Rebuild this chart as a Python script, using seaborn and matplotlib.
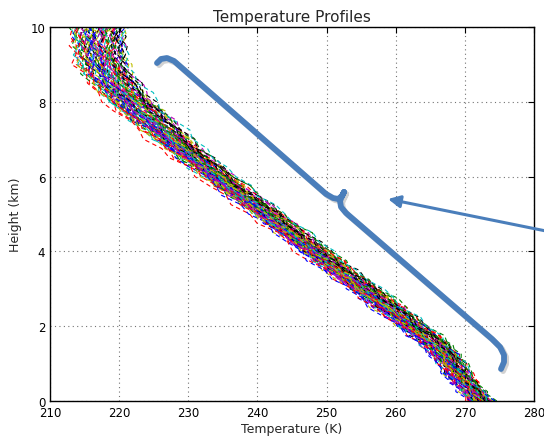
import numpy as np
import pandas as pd
import matplotlib
matplotlib.use("Agg")
import matplotlib.pyplot as plt
import matplotlib.patheffects as pe
import seaborn as sns

# heights (km) every 250 m and the band
heights = [0.0, 0.25, 0.5, 0.75, 1.0, 1.25, 1.5, 1.75, 2.0, 2.25, 2.5,
           2.75, 3.0, 3.25, 3.5, 3.75, 4.0, 4.25, 4.5, 4.75, 5.0,
           5.25, 5.5, 5.75, 6.0, 6.25, 6.5, 6.75, 7.0, 7.25, 7.5,
           7.75, 8.0, 8.25, 8.5, 8.75, 9.0, 9.25, 9.5, 9.75, 10.0]
mean_temp = [272.2, 271.1, 270.0, 268.9, 267.9, 266.9, 265.7, 264.1, 262.3, 260.6, 258.9,
             257.1, 255.3, 253.5, 251.7, 249.9, 248.2, 246.4, 244.7, 242.9, 241.2,
             239.4, 237.6, 235.8, 234.1, 232.4, 230.7, 229.0, 227.5, 226.0, 224.5,
             223.0, 221.6, 220.3, 219.2, 218.3, 217.6, 217.2, 217.0, 216.9, 216.9]
half_spread = [1.7, 1.8, 1.9, 2.0, 2.1, 2.3, 2.4, 2.5, 2.5, 2.6, 2.7,
               2.8, 2.8, 2.9, 2.9, 3.0, 3.0, 3.0, 3.0, 3.1, 3.1,
               3.2, 3.2, 3.3, 3.3, 3.4, 3.5, 3.6, 3.7, 3.8, 3.9,
               4.0, 4.0, 4.1, 4.1, 4.1, 4.1, 4.0, 4.0, 3.9, 3.9]

# where each profile sits inside the band, near the ground and near the top
pos_bottom = [0.1, -0.6, 0.8, -0.2, 0.5, -0.9, 0.3, -0.4, 0.9, 0.0, -0.7, 0.6,
              -0.1, 0.4, -0.8, 0.2, 0.7, -0.5, 0.0, -0.3, 0.5, -1.0, 0.3, 0.8,
              -0.6, 0.1, -0.2, 0.6, -0.4, 1.0, -0.8, 0.2, 0.4, -0.1, 0.7, -0.5,
              0.0, 0.9, -0.3, -0.7, 0.3, 0.6, -0.9, 0.1, -0.2, 0.8, -0.6, 0.4,
              0.0, -0.4, 0.5, -0.1, 0.2, -0.8, 0.7, -0.3, 0.9, 0.1, -0.5, 0.3,
              -0.2, 0.6, -0.7, 0.15, -0.45, 0.35, -0.85, 0.55, -0.05, 0.75, -0.25, 0.95,
              -0.65, 0.05, 0.45, -0.35, 0.25, -0.95, 0.65, -0.15, 0.85, -0.55, 0.0, 0.4]
pos_top = [-0.3, 0.4, 0.2, -0.8, 0.9, -0.1, -0.6, 0.5, 0.3, -0.9, 0.1, 0.7,
           -0.4, -0.2, 0.6, -0.7, 0.0, 0.8, -0.5, 0.4, -0.1, 0.2, -0.9, 0.5,
           0.1, -0.6, 1.0, -0.3, 0.7, -0.2, 0.3, -0.8, 0.6, 0.0, -0.4, 0.9,
           -0.7, 0.2, 0.4, -0.1, 0.8, -0.5, 0.1, -0.3, 0.6, -0.9, 0.3, -0.2,
           0.7, 0.0, -0.6, 0.5, -0.4, 0.2, -0.1, 0.9, -0.8, 0.4, 0.1, -0.3,
           0.6, -0.5, 0.2, -0.15, 0.55, -0.75, 0.35, 0.05, -0.45, 0.85, -0.25, 0.65,
           -0.95, 0.15, -0.55, 0.45, 0.75, -0.35, 0.25, -0.65, 0.95, -0.05, -0.85, 0.5]
# small-scale jitter of a sounding, shifted per profile
wiggle = [0.6, -0.4, 0.9, -0.2, -1.0, 0.4, 1.0, -0.6, 0.2, -0.8, 0.6,
          0.0, -0.5, 1.0, -0.6, 0.3, -1.0, 0.2, 0.8, -0.3, -0.7,
          0.5, -0.1, 0.9, -0.9, 0.3, 0.7, -0.4, 0.1, -0.8, 0.5,
          -0.2, 0.8, -0.6, 0.0, 0.4, -0.9, 0.6, -0.3, 0.2, -0.5]

line_colors = ["#0000ff", "#008000", "#ff0000", "#00bfbf", "#bf00bf", "#bfbf00", "#000000"]

h = np.array(heights)
rows = []
for i in range(len(pos_bottom)):
    frac = h / 10.0
    pos = pos_bottom[i] * (1 - frac) + pos_top[i] * frac
    temps = np.array(mean_temp) + np.array(half_spread) * pos + np.roll(wiggle, 7 * i) * 0.8
    for hh, tt in zip(heights, temps):
        rows.append({"profile": f"p{i:02d}", "height": hh, "temp": tt})
df = pd.DataFrame(rows)
names = df["profile"].unique()
palette = {n: line_colors[k % 7] for k, n in enumerate(names)}

sns.set_style("white")
plt.rcParams.update({
    "font.family": ["DejaVu Sans"],
    "xtick.direction": "in", "ytick.direction": "in",
    "xtick.top": True, "ytick.right": True,
    "xtick.major.size": 4, "ytick.major.size": 4,
    "axes.edgecolor": "black", "axes.linewidth": 1.0,
})

fig = plt.figure(figsize=(5.44, 4.39), dpi=100)
ax = fig.add_axes([50 / 544, 37 / 439, 484 / 544, 374 / 439])

sns.lineplot(data=df, x="temp", y="height", hue="profile", palette=palette,
             estimator=None, sort=False, legend=False, lw=0.8,
             linestyle=(0, (4, 3)), ax=ax)

ax.set_xlim(210, 280)
ax.set_ylim(0, 10)
ax.set_xticks([210, 220, 230, 240, 250, 260, 270, 280])
ax.set_yticks([0, 2, 4, 6, 8, 10])
ax.tick_params(labelsize=8.5, colors="black")
ax.grid(True, color="0.45", linestyle=(0, (1, 3)), lw=0.8)
ax.set_title("Temperature Profiles", fontsize=11, pad=4)
ax.set_xlabel("Temperature (K)", fontsize=9, labelpad=2)
ax.set_ylabel("Height (km)", fontsize=9, labelpad=6)

# brace annotation, traced in pixel space then converted to data units
brace_px = [(157, 64), (161, 60), (167, 59), (174, 62), (326, 195), (333, 199),
            (338, 200), (342, 197), (344, 193), (342, 197), (340, 202), (341, 208),
            (346, 214), (492, 340), (500, 348), (504, 356), (504, 363), (501, 370)]
bx = [210 + (p[0] - 50) / 6.914 for p in brace_px]
by = [(402 - p[1]) / 37.4 for p in brace_px]
shadow = [pe.SimpleLineShadow(offset=(1.5, -1.5), shadow_color="0.5", alpha=0.35), pe.Normal()]
ax.plot(bx, by, color="#4a7ebb", lw=4.2, solid_capstyle="round", solid_joinstyle="round",
        clip_on=False, zorder=5, path_effects=shadow)

ax.annotate("", xy=(210 + (388 - 50) / 6.914, (402 - 200) / 37.4),
            xytext=(210 + (546 - 50) / 6.914, (402 - 232) / 37.4),
            arrowprops=dict(arrowstyle="-|>", color="#4a7ebb", lw=2.2, mutation_scale=18,
                            shrinkA=0, shrinkB=0),
            annotation_clip=False, zorder=5)

fig.savefig("out.png", dpi=100)
